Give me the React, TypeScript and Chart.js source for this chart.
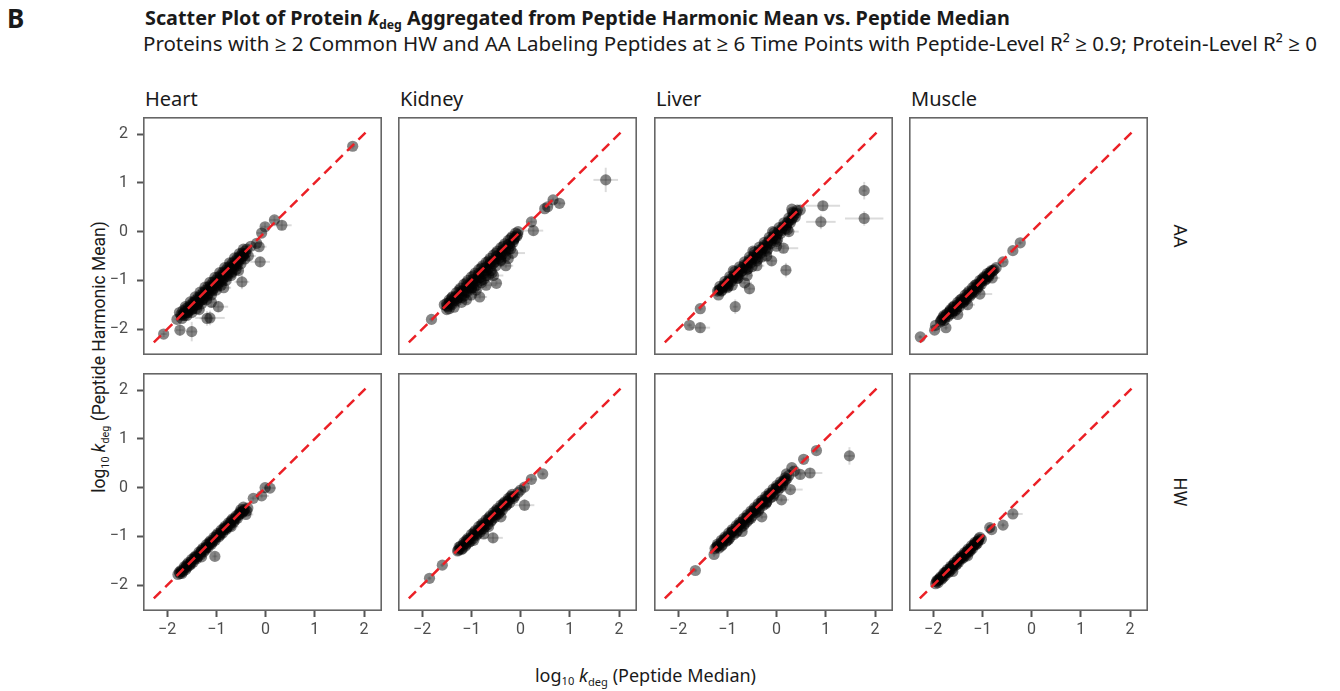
import React, { useEffect, useRef } from "react";
import { Chart, registerables } from "chart.js";

Chart.register(...registerables);

// ---------- data ----------
const TISSUES = ["Heart", "Kidney", "Liver", "Muscle"];
const LABELINGS = ["AA", "HW"];
const TICKS = [-2, -1, 0, 1, 2];
const X_RANGE = [-2.49, 2.365];
const Y_RANGE = [-2.53, 2.35];
const IDENTITY_X = [-2.27, 2.04];
const IDENTITY_Y = [-2.27, 2.04];

// [x, y, xErr, yErr]
const HEART_AA: number[][] = [
  [1.77, 1.75, 0.05, 0.05], [0.18, 0.24, 0.1, 0.08], [0.33, 0.13, 0.2, 0.1], [-0.01, 0.1, 0.08, 0.08],
  [-0.08, -0.03, 0.1, 0.05], [-0.13, -0.31, 0.15, 0.08], [-0.18, -0.24, 0.08, 0.06], [-0.11, -0.62, 0.2, 0.1],
  [-0.48, -1.03, 0.15, 0.15], [-0.69, -0.85, 0.2, 0.1], [-0.96, -1.54, 0.2, 0.12], [-1.13, -1.77, 0.3, 0.15],
  [-1.19, -1.78, 0.15, 0.15], [-1.5, -2.05, 0.1, 0.2], [-1.74, -2.02, 0.08, 0.12], [-2.07, -2.1, 0.06, 0.06],
  [-1.8, -1.8, 0.05, 0.05], [-0.3, -0.3, 0.08, 0.06], [-0.35, -0.5, 0.15, 0.05], [-0.55, -0.8, 0.1, 0.1],
  [-0.85, -1.15, 0.15, 0.05], [-1.1, -1.45, 0.1, 0.1], [-1.35, -1.6, 0.12, 0.05],
  [-1.72, -1.7], [-1.68, -1.62], [-1.65, -1.72, 0.06, 0.05], [-1.62, -1.58], [-1.6, -1.66], [-1.57, -1.55],
  [-1.55, -1.62, 0.08, 0.05], [-1.52, -1.5], [-1.5, -1.6], [-1.47, -1.45], [-1.45, -1.52, 0.1, 0.06], [-1.42, -1.4],
  [-1.4, -1.5], [-1.37, -1.35], [-1.35, -1.44, 0.1, 0.05], [-1.32, -1.3], [-1.3, -1.4], [-1.27, -1.25],
  [-1.25, -1.36, 0.12, 0.05], [-1.22, -1.2], [-1.2, -1.3], [-1.17, -1.14], [-1.15, -1.26], [-1.12, -1.1],
  [-1.1, -1.2, 0.1, 0.08], [-1.07, -1.04], [-1.05, -1.16], [-1.02, -1.0], [-1.0, -1.1], [-0.97, -0.94],
  [-0.95, -1.05, 0.15, 0.06], [-0.92, -0.9], [-0.9, -1.0], [-0.87, -0.84], [-0.85, -0.95], [-0.82, -0.8],
  [-0.8, -0.9, 0.12, 0.05], [-0.77, -0.74], [-0.75, -0.85], [-0.72, -0.7], [-0.7, -0.78], [-0.67, -0.64],
  [-0.65, -0.74, 0.1, 0.06], [-0.62, -0.6], [-0.6, -0.68], [-0.57, -0.54], [-0.55, -0.62], [-0.52, -0.5],
  [-0.5, -0.56, 0.1, 0.05], [-0.47, -0.44], [-0.45, -0.5], [-0.42, -0.4], [-0.4, -0.44],
  [-1.7, -1.78], [-1.6, -1.72], [-1.5, -1.66], [-1.4, -1.58], [-1.3, -1.48], [-1.2, -1.4], [-1.1, -1.3],
  [-1.0, -1.2], [-0.9, -1.1], [-0.8, -1.0], [-0.7, -0.9], [-0.6, -0.78], [-0.5, -0.66], [-0.42, -0.56],
  [-1.75, -1.66], [-1.63, -1.54], [-1.53, -1.44], [-1.43, -1.34], [-1.33, -1.24], [-1.23, -1.14],
  [-1.13, -1.04], [-1.03, -0.94], [-0.93, -0.84], [-0.83, -0.74], [-0.73, -0.64], [-0.63, -0.54],
  [-0.53, -0.45], [-0.45, -0.36], [-0.38, -0.36],
  [-1.66, -1.68], [-1.56, -1.6], [-1.46, -1.5], [-1.36, -1.4], [-1.26, -1.3], [-1.16, -1.2], [-1.06, -1.1],
  [-0.96, -1.0], [-0.86, -0.9], [-0.76, -0.8], [-0.66, -0.7], [-0.56, -0.6], [-0.46, -0.5], [-1.58, -1.66],
  [-1.48, -1.58], [-1.38, -1.5], [-1.28, -1.4], [-1.18, -1.32], [-1.08, -1.22], [-0.98, -1.12], [-0.88, -1.02],
  [-0.78, -0.92], [-0.68, -0.82], [-0.58, -0.7],
  [-1.7, -1.72], [-1.64, -1.64], [-1.58, -1.6], [-1.52, -1.54], [-1.46, -1.47], [-1.4, -1.42], [-1.34, -1.36],
  [-1.28, -1.31], [-1.22, -1.25], [-1.16, -1.18], [-1.1, -1.13], [-1.04, -1.07], [-0.98, -1.02], [-0.92, -0.95],
  [-0.86, -0.88], [-0.8, -0.83], [-0.74, -0.77], [-0.68, -0.72], [-0.62, -0.66], [-0.56, -0.58], [-0.5, -0.52],
  [-0.44, -0.46],
];

const KIDNEY_AA: number[][] = [
  [1.73, 1.06, 0.25, 0.25], [0.79, 0.58, 0.12, 0.05], [0.66, 0.65, 0.1, 0.05], [0.55, 0.51, 0.1, 0.06],
  [0.49, 0.47, 0.06, 0.06], [0.22, 0.2, 0.08, 0.08], [0.26, 0.02, 0.2, 0.1], [-1.81, -1.8, 0.05, 0.05],
  [-1.48, -1.54, 0.1, 0.06], [-1.2, -1.45, 0.15, 0.05], [-1.0, -1.3, 0.2, 0.08], [-0.83, -1.34, 0.15, 0.05],
  [-0.7, -1.1, 0.2, 0.06], [-0.49, -1.06, 0.1, 0.05], [-0.55, -0.9, 0.2, 0.05], [-0.3, -0.7, 0.15, 0.05],
  [-0.16, -0.44, 0.25, 0.05], [-0.25, -0.55, 0.1, 0.08], [-1.35, -1.55, 0.1, 0.05], [-1.45, -1.58, 0.06, 0.05],
  [-1.1, -1.4, 0.1, 0.05], [-0.9, -1.2, 0.1, 0.06],
  [-1.55, -1.5], [-1.5, -1.52], [-1.45, -1.4], [-1.42, -1.48, 0.08, 0.05], [-1.38, -1.33], [-1.35, -1.42],
  [-1.3, -1.25], [-1.27, -1.36, 0.1, 0.05], [-1.22, -1.16], [-1.2, -1.3], [-1.15, -1.08], [-1.12, -1.24],
  [-1.07, -1.0], [-1.05, -1.16, 0.12, 0.06], [-1.0, -0.93], [-0.97, -1.08], [-0.92, -0.85], [-0.9, -1.0],
  [-0.85, -0.78], [-0.82, -0.94, 0.15, 0.05], [-0.77, -0.7], [-0.75, -0.86], [-0.7, -0.63], [-0.67, -0.78],
  [-0.62, -0.55], [-0.6, -0.7, 0.1, 0.06], [-0.55, -0.48], [-0.52, -0.62], [-0.47, -0.4], [-0.45, -0.55],
  [-0.4, -0.33], [-0.37, -0.47, 0.12, 0.05], [-0.32, -0.25], [-0.3, -0.4], [-0.25, -0.18], [-0.22, -0.3],
  [-0.17, -0.1], [-0.15, -0.22, 0.1, 0.05], [-0.1, -0.03], [-0.12, -0.12], [-0.65, -0.9], [-0.8, -1.05],
  [-1.0, -1.15], [-0.4, -0.6],
  [-1.5, -1.6], [-1.4, -1.5], [-1.3, -1.42], [-1.2, -1.35], [-1.1, -1.25], [-1.0, -1.18], [-0.9, -1.1],
  [-0.8, -1.0], [-0.7, -0.9], [-0.6, -0.8], [-0.5, -0.7], [-0.4, -0.58], [-0.3, -0.5], [-0.2, -0.35],
  [-0.08, -0.1], [-1.25, -1.2], [-1.1, -1.05], [-0.95, -0.9], [-0.8, -0.75], [-0.65, -0.6], [-0.5, -0.44],
  [-0.35, -0.3], [-0.2, -0.14], [-0.05, 0.0], [-1.4, -1.36],
  [-1.45, -1.46], [-1.33, -1.34], [-1.21, -1.22], [-1.09, -1.1], [-0.97, -0.98], [-0.85, -0.86], [-0.73, -0.74],
  [-0.61, -0.62], [-0.49, -0.5], [-0.37, -0.38], [-0.25, -0.26], [-0.13, -0.15], [-1.3, -1.38], [-1.15, -1.22],
  [-1.0, -1.08], [-0.85, -0.95], [-0.7, -0.8], [-0.55, -0.65], [-0.4, -0.52], [-0.25, -0.36], [-1.15, -1.32],
  [-0.95, -1.15], [-0.75, -0.98], [-0.58, -0.85],
  [-1.5, -1.47], [-1.42, -1.42], [-1.34, -1.36], [-1.26, -1.3], [-1.18, -1.22], [-1.1, -1.14], [-1.02, -1.06],
  [-0.94, -0.98], [-0.86, -0.9], [-0.78, -0.82], [-0.7, -0.74], [-0.62, -0.66], [-0.54, -0.58], [-0.46, -0.5],
  [-0.38, -0.42], [-0.3, -0.34], [-0.22, -0.25], [-0.14, -0.17], [-0.06, -0.06],
];

const LIVER_AA: number[][] = [
  [1.78, 0.84, 0.05, 0.18], [1.78, 0.27, 0.39, 0.15], [0.94, 0.53, 0.35, 0.1], [0.9, 0.2, 0.3, 0.15],
  [0.31, 0.46, 0.06, 0.05], [0.48, 0.44, 0.06, 0.05], [0.14, -0.34, 0.3, 0.1], [0.19, -0.79, 0.1, 0.15],
  [-0.55, -1.17, 0.1, 0.12], [-0.84, -1.54, 0.05, 0.15], [-1.11, -1.2, 0.05, 0.05], [-1.55, -1.58, 0.05, 0.05],
  [-1.55, -1.97, 0.2, 0.1], [-1.77, -1.92, 0.05, 0.05], [-0.1, -0.6, 0.1, 0.1], [0.25, 0.0, 0.2, 0.1],
  [-0.9, -1.1, 0.1, 0.05], [-0.6, -0.9, 0.12, 0.06], [-0.4, -0.7, 0.15, 0.05], [-0.2, -0.5, 0.1, 0.08],
  [0.0, -0.3, 0.2, 0.05], [-0.65, -1.05, 0.15, 0.1],
  [-1.2, -1.22], [-1.15, -1.12], [-1.12, -1.22, 0.06, 0.05], [-1.05, -1.02], [-1.02, -1.12], [-0.95, -0.92],
  [-0.92, -1.02, 0.1, 0.05], [-0.85, -0.82], [-0.82, -0.93], [-0.75, -0.72], [-0.72, -0.83, 0.1, 0.06],
  [-0.65, -0.62], [-0.62, -0.74], [-0.55, -0.52], [-0.52, -0.64, 0.12, 0.05], [-0.45, -0.42], [-0.42, -0.54],
  [-0.35, -0.32], [-0.32, -0.44, 0.1, 0.06], [-0.25, -0.22], [-0.22, -0.34], [-0.15, -0.12],
  [-0.12, -0.24, 0.12, 0.05], [-0.05, -0.02], [-0.02, -0.14], [0.05, 0.08], [0.08, -0.04, 0.1, 0.05],
  [0.15, 0.18], [0.18, 0.06], [0.25, 0.28], [0.28, 0.18, 0.08, 0.05], [0.35, 0.38], [0.38, 0.3], [0.42, 0.44],
  [-0.78, -0.9], [-0.5, -0.72], [-0.3, -0.52], [-1.0, -1.08],
  [-1.1, -1.15], [-1.0, -1.05], [-0.9, -0.98], [-0.8, -0.88], [-0.7, -0.8], [-0.6, -0.68], [-0.5, -0.58],
  [-0.4, -0.48], [-0.3, -0.38], [-0.2, -0.28], [-0.1, -0.18], [0.0, -0.08], [0.1, 0.02], [0.2, 0.12],
  [0.3, 0.24], [-1.18, -1.3], [-0.98, -1.12], [-0.78, -0.95], [-0.58, -0.76], [-0.38, -0.56], [-0.18, -0.36],
  [0.02, -0.16], [0.22, 0.04], [-0.88, -0.8], [-0.48, -0.4], [-0.08, 0.0], [0.32, 0.4],
  [-1.15, -1.18], [-1.05, -1.08], [-0.95, -0.98], [-0.85, -0.88], [-0.75, -0.78], [-0.65, -0.68], [-0.55, -0.58],
  [-0.45, -0.48], [-0.35, -0.38], [-0.25, -0.28], [-0.15, -0.18], [-0.05, -0.08], [0.05, 0.02], [0.15, 0.12],
  [0.25, 0.22], [0.35, 0.33], [-1.0, -1.15], [-0.8, -0.96], [-0.6, -0.78], [-0.4, -0.6], [-0.2, -0.4], [0.0, -0.2],
  [-1.17, -1.2], [-1.08, -1.12], [-0.98, -1.02], [-0.88, -0.93], [-0.78, -0.83], [-0.68, -0.73], [-0.58, -0.63],
  [-0.48, -0.53], [-0.38, -0.43], [-0.28, -0.33], [-0.18, -0.23], [-0.08, -0.13], [0.02, -0.03], [0.12, 0.08],
  [0.22, 0.18], [0.32, 0.28], [0.4, 0.38],
];

const MUSCLE_AA: number[][] = [
  [-0.23, -0.23, 0.05, 0.05], [-0.38, -0.39, 0.06, 0.05], [-0.58, -0.62, 0.08, 0.05], [-2.26, -2.16, 0.04, 0.04],
  [-1.97, -2.02, 0.05, 0.05], [-1.74, -1.97, 0.05, 0.05], [-1.95, -1.92, 0.04, 0.04], [-1.3, -1.5, 0.15, 0.1],
  [-1.05, -1.28, 0.25, 0.05], [-0.8, -0.95, 0.15, 0.05], [-1.5, -1.7, 0.1, 0.06],
  [-1.85, -1.85], [-1.8, -1.76], [-1.77, -1.82], [-1.72, -1.68], [-1.7, -1.74, 0.06, 0.04], [-1.65, -1.6],
  [-1.62, -1.68], [-1.57, -1.52], [-1.55, -1.62, 0.1, 0.05], [-1.5, -1.45], [-1.47, -1.54], [-1.42, -1.38],
  [-1.4, -1.46, 0.12, 0.05], [-1.35, -1.3], [-1.32, -1.39], [-1.27, -1.22], [-1.25, -1.32, 0.1, 0.06],
  [-1.2, -1.15], [-1.17, -1.24], [-1.12, -1.08], [-1.1, -1.16, 0.15, 0.05], [-1.05, -1.0], [-1.02, -1.08],
  [-0.97, -0.93], [-0.95, -1.0, 0.12, 0.05], [-0.9, -0.86], [-0.87, -0.92], [-0.82, -0.8], [-0.78, -0.8],
  [-0.72, -0.74], [-1.6, -1.64], [-1.35, -1.4],
  [-1.78, -1.72], [-1.6, -1.55], [-1.45, -1.4], [-1.3, -1.26], [-1.15, -1.1], [-1.0, -0.97], [-0.85, -0.84],
  [-1.68, -1.66], [-1.52, -1.58], [-1.38, -1.44], [-1.22, -1.28], [-1.08, -1.13], [-0.92, -0.97], [-0.76, -0.78],
  [-1.82, -1.8], [-1.74, -1.72], [-1.66, -1.63], [-1.58, -1.56], [-1.5, -1.5], [-1.42, -1.42], [-1.34, -1.35],
  [-1.26, -1.28], [-1.18, -1.2], [-1.1, -1.1], [-1.02, -1.02], [-0.94, -0.93], [-0.86, -0.88], [-0.8, -0.82],
  [-1.84, -1.82], [-1.76, -1.76], [-1.68, -1.7], [-1.6, -1.62], [-1.52, -1.54], [-1.44, -1.46], [-1.36, -1.38],
  [-1.28, -1.3], [-1.2, -1.22], [-1.12, -1.14], [-1.04, -1.05], [-0.96, -0.97], [-0.88, -0.9],
];

const HEART_HW: number[][] = [
  [-1.03, -1.41, 0.05, 0.08], [-0.01, 0.0, 0.06, 0.05], [0.09, -0.01, 0.12, 0.05], [-0.25, -0.22, 0.06, 0.05],
  [-0.08, -0.17, 0.15, 0.05], [-0.45, -0.4, 0.1, 0.05], [-0.4, -0.55, 0.15, 0.05], [-0.7, -0.8, 0.15, 0.05],
  [-1.78, -1.78, 0.05, 0.05], [-0.5, -0.45, 0.1, 0.06], [-1.3, -1.42, 0.1, 0.05],
  [-1.72, -1.7], [-1.7, -1.76], [-1.65, -1.62], [-1.62, -1.68, 0.08, 0.04], [-1.57, -1.54], [-1.55, -1.6],
  [-1.5, -1.47], [-1.47, -1.53, 0.1, 0.05], [-1.42, -1.4], [-1.4, -1.46], [-1.35, -1.32], [-1.32, -1.38, 0.1, 0.05],
  [-1.27, -1.24], [-1.25, -1.31], [-1.2, -1.17], [-1.17, -1.23, 0.12, 0.05], [-1.12, -1.09], [-1.1, -1.16],
  [-1.05, -1.02], [-1.02, -1.08, 0.1, 0.05], [-0.97, -0.94], [-0.95, -1.01], [-0.9, -0.87], [-0.87, -0.93, 0.12, 0.05],
  [-0.82, -0.79], [-0.8, -0.86], [-0.75, -0.72], [-0.72, -0.78, 0.12, 0.05], [-0.67, -0.64], [-0.65, -0.71],
  [-0.6, -0.58], [-0.57, -0.63, 0.1, 0.05], [-0.52, -0.5], [-0.48, -0.52], [-0.42, -0.44], [-0.38, -0.48],
  [-1.75, -1.73], [-1.6, -1.58], [-1.45, -1.43], [-1.3, -1.28], [-1.15, -1.13], [-1.0, -0.98], [-0.85, -0.83],
  [-0.7, -0.68], [-0.55, -0.55], [-1.68, -1.72], [-1.52, -1.57], [-1.38, -1.42], [-1.22, -1.27], [-1.08, -1.12],
  [-0.92, -0.97], [-0.78, -0.82], [-0.62, -0.67], [-0.46, -0.49], [-0.36, -0.42],
  [-1.74, -1.76], [-1.64, -1.65], [-1.54, -1.56], [-1.44, -1.46], [-1.34, -1.36], [-1.24, -1.26], [-1.14, -1.16],
  [-1.04, -1.06], [-0.94, -0.96], [-0.84, -0.86], [-0.74, -0.76], [-0.64, -0.65], [-0.54, -0.56], [-0.44, -0.47],
  [-1.6, -1.64], [-1.2, -1.23], [-0.8, -0.83],
  [-1.71, -1.72], [-1.61, -1.62], [-1.51, -1.52], [-1.41, -1.42], [-1.31, -1.32], [-1.21, -1.22], [-1.11, -1.12],
  [-1.01, -1.02], [-0.91, -0.92], [-0.81, -0.82], [-0.71, -0.72], [-0.61, -0.62], [-0.51, -0.52],
];

const KIDNEY_HW: number[][] = [
  [0.45, 0.28, 0.05, 0.05], [0.22, 0.17, 0.1, 0.05], [0.08, 0.01, 0.08, 0.05], [0.08, -0.36, 0.2, 0.12],
  [-0.56, -1.03, 0.2, 0.1], [-1.59, -1.59, 0.04, 0.04], [-1.85, -1.86, 0.04, 0.04], [-0.05, -0.1, 0.08, 0.05],
  [0.0, -0.05, 0.06, 0.05], [-0.4, -0.6, 0.12, 0.05], [-0.75, -0.95, 0.1, 0.06],
  [-1.28, -1.3], [-1.22, -1.2], [-1.2, -1.27, 0.06, 0.05], [-1.15, -1.12], [-1.12, -1.2], [-1.07, -1.04],
  [-1.05, -1.12, 0.1, 0.05], [-1.0, -0.96], [-0.97, -1.05], [-0.92, -0.88], [-0.9, -0.98, 0.1, 0.06],
  [-0.85, -0.8], [-0.82, -0.91], [-0.77, -0.73], [-0.75, -0.84, 0.12, 0.05], [-0.7, -0.66], [-0.67, -0.76],
  [-0.62, -0.58], [-0.6, -0.69, 0.1, 0.05], [-0.55, -0.51], [-0.52, -0.61], [-0.47, -0.43], [-0.45, -0.54, 0.1, 0.05],
  [-0.4, -0.36], [-0.37, -0.46], [-0.32, -0.29], [-0.3, -0.38, 0.1, 0.05], [-0.25, -0.22], [-0.22, -0.31],
  [-0.17, -0.14], [-0.14, -0.22],
  [-1.25, -1.22], [-1.1, -1.08], [-0.95, -0.92], [-0.8, -0.77], [-0.65, -0.62], [-0.5, -0.47], [-0.35, -0.33],
  [-0.2, -0.18], [-1.18, -1.25], [-1.02, -1.1], [-0.88, -0.95], [-0.72, -0.8], [-0.58, -0.66], [-0.42, -0.5],
  [-0.28, -0.35], [-0.12, -0.18], [-0.95, -1.08], [-0.65, -0.8],
  [-1.26, -1.28], [-1.16, -1.17], [-1.06, -1.07], [-0.96, -0.98], [-0.86, -0.88], [-0.76, -0.78], [-0.66, -0.68],
  [-0.56, -0.58], [-0.46, -0.48], [-0.36, -0.38], [-0.26, -0.28], [-0.16, -0.19], [-1.1, -1.16], [-0.8, -0.86],
  [-0.5, -0.56],
  [-1.23, -1.25], [-1.13, -1.15], [-1.03, -1.05], [-0.93, -0.95], [-0.83, -0.85], [-0.73, -0.75], [-0.63, -0.65],
  [-0.53, -0.55], [-0.43, -0.45], [-0.33, -0.35], [-0.23, -0.25],
];

const LIVER_HW: number[][] = [
  [1.48, 0.65, 0.1, 0.18], [0.81, 0.76, 0.06, 0.05], [0.55, 0.58, 0.06, 0.05], [0.68, 0.3, 0.25, 0.1],
  [0.48, 0.27, 0.05, 0.1], [0.31, 0.41, 0.06, 0.05], [0.28, -0.04, 0.25, 0.05], [-1.65, -1.7, 0.04, 0.04],
  [-1.27, -1.37, 0.05, 0.05], [0.1, -0.25, 0.15, 0.05], [-0.3, -0.6, 0.1, 0.05], [-0.7, -0.9, 0.1, 0.05],
  [-1.25, -1.25], [-1.2, -1.16], [-1.17, -1.24, 0.06, 0.05], [-1.12, -1.08], [-1.1, -1.17], [-1.05, -1.01],
  [-1.02, -1.1, 0.08, 0.05], [-0.97, -0.93], [-0.95, -1.03], [-0.9, -0.86], [-0.87, -0.96, 0.1, 0.05],
  [-0.82, -0.78], [-0.8, -0.89], [-0.75, -0.71], [-0.72, -0.81, 0.1, 0.05], [-0.67, -0.63], [-0.65, -0.74],
  [-0.6, -0.56], [-0.57, -0.66, 0.1, 0.05], [-0.52, -0.48], [-0.5, -0.59], [-0.45, -0.41], [-0.42, -0.51, 0.1, 0.05],
  [-0.37, -0.33], [-0.35, -0.44], [-0.3, -0.26], [-0.27, -0.36, 0.12, 0.05], [-0.22, -0.18], [-0.2, -0.29],
  [-0.15, -0.11], [-0.12, -0.21, 0.1, 0.05], [-0.07, -0.03], [-0.05, -0.13], [0.0, 0.04], [0.03, -0.05, 0.1, 0.05],
  [0.08, 0.12], [0.12, 0.05], [0.17, 0.2], [0.21, 0.18],
  [-1.2, -1.2], [-1.05, -1.05], [-0.9, -0.9], [-0.75, -0.76], [-0.6, -0.62], [-0.45, -0.47], [-0.3, -0.31],
  [-0.15, -0.16], [0.0, -0.01], [0.15, 0.14], [-1.12, -1.2], [-0.97, -1.06], [-0.82, -0.92], [-0.67, -0.78],
  [-0.52, -0.63], [-0.37, -0.48], [-0.22, -0.33], [-0.07, -0.18], [0.08, 0.0], [0.25, 0.25], [0.2, 0.28],
  [0.36, 0.34],
  [-1.22, -1.22], [-1.12, -1.13], [-1.02, -1.03], [-0.92, -0.93], [-0.82, -0.83], [-0.72, -0.73], [-0.62, -0.63],
  [-0.52, -0.53], [-0.42, -0.43], [-0.32, -0.33], [-0.22, -0.23], [-0.12, -0.13], [-0.02, -0.03], [0.08, 0.06],
  [0.18, 0.15], [-1.0, -1.08], [-0.6, -0.7], [-0.2, -0.3],
  [-1.18, -1.19], [-1.08, -1.09], [-0.98, -0.99], [-0.88, -0.89], [-0.78, -0.79], [-0.68, -0.69], [-0.58, -0.59],
  [-0.48, -0.49], [-0.38, -0.39], [-0.28, -0.29], [-0.18, -0.19], [-0.08, -0.09], [0.02, 0.01], [0.12, 0.1],
];

const MUSCLE_HW: number[][] = [
  [-0.38, -0.54, 0.2, 0.05], [-0.58, -0.77, 0.05, 0.05], [-0.81, -0.86, 0.05, 0.05], [-0.85, -0.82, 0.05, 0.05],
  [-1.6, -1.72, 0.1, 0.05], [-1.3, -1.4, 0.1, 0.04],
  [-1.95, -1.97], [-1.92, -1.9], [-1.9, -1.95, 0.05, 0.04], [-1.85, -1.83], [-1.83, -1.88], [-1.78, -1.75],
  [-1.76, -1.81, 0.06, 0.04], [-1.71, -1.68], [-1.69, -1.74], [-1.64, -1.61], [-1.62, -1.67, 0.08, 0.04],
  [-1.57, -1.54], [-1.55, -1.6], [-1.5, -1.47], [-1.48, -1.53, 0.08, 0.04], [-1.43, -1.4], [-1.41, -1.46],
  [-1.36, -1.33], [-1.34, -1.39, 0.08, 0.04], [-1.29, -1.26], [-1.27, -1.32], [-1.22, -1.19],
  [-1.2, -1.25, 0.08, 0.04], [-1.15, -1.12], [-1.13, -1.17], [-1.07, -1.05], [-1.02, -1.06],
  [-1.88, -1.88], [-1.75, -1.74], [-1.6, -1.6], [-1.45, -1.44], [-1.3, -1.3], [-1.15, -1.15], [-1.05, -1.02],
  [-1.8, -1.85], [-1.66, -1.71], [-1.52, -1.57], [-1.38, -1.43], [-1.24, -1.29], [-1.1, -1.14],
  [-1.93, -1.93], [-1.86, -1.86], [-1.79, -1.79], [-1.72, -1.72], [-1.65, -1.65], [-1.58, -1.58], [-1.51, -1.51],
  [-1.44, -1.45], [-1.37, -1.38], [-1.3, -1.31], [-1.23, -1.24], [-1.16, -1.17], [-1.1, -1.1],
  [-1.9, -1.91], [-1.82, -1.83], [-1.74, -1.75], [-1.66, -1.67], [-1.58, -1.59], [-1.5, -1.51], [-1.42, -1.43],
  [-1.34, -1.35], [-1.26, -1.27], [-1.18, -1.19], [-1.08, -1.09],
];

const PANEL_DATA: number[][][][] = [
  [HEART_AA, KIDNEY_AA, LIVER_AA, MUSCLE_AA],
  [HEART_HW, KIDNEY_HW, LIVER_HW, MUSCLE_HW],
];

// ---------- layout ----------
const COL_LEFT = [143, 398, 654, 909];
const ROW_TOP = [117, 373];
const PANEL_W = 239;
const PANEL_H = 238;
const AXIS_W = 50;
const AXIS_H = 36;

const RED = "rgb(235,32,38)";
const TEXT = "#1a1a1a";
const TICK_TEXT = "#4d4d4d";
const MAIN_FONT = "'Noto Sans', 'Open Sans', sans-serif";

const fmt = (v: number) => (v < 0 ? "\u2212" + Math.abs(v) : String(v));

const errorBarPlugin = {
  id: "errorBars",
  beforeDatasetsDraw(chart: any) {
    const { ctx, chartArea: a, scales } = chart;
    const xs = scales.x, ys = scales.y;
    const pts = chart.data.datasets[1].data as any[];
    ctx.save();
    ctx.beginPath();
    ctx.rect(a.left, a.top, a.right - a.left, a.bottom - a.top);
    ctx.clip();
    ctx.strokeStyle = "rgba(0,0,0,0.14)";
    ctx.lineWidth = 2;
    for (const p of pts) {
      const px = xs.getPixelForValue(p.x);
      const py = ys.getPixelForValue(p.y);
      if (p.xe) {
        ctx.beginPath();
        ctx.moveTo(xs.getPixelForValue(p.x - p.xe), py);
        ctx.lineTo(xs.getPixelForValue(p.x + p.xe), py);
        ctx.stroke();
      }
      if (p.ye) {
        ctx.beginPath();
        ctx.moveTo(px, ys.getPixelForValue(p.y - p.ye));
        ctx.lineTo(px, ys.getPixelForValue(p.y + p.ye));
        ctx.stroke();
      }
    }
    ctx.restore();
  },
};

const borderPlugin = {
  id: "panelBorder",
  afterDraw(chart: any) {
    const { ctx, chartArea: a } = chart;
    ctx.save();
    ctx.strokeStyle = "#666666";
    ctx.lineWidth = 1.6;
    ctx.strokeRect(a.left + 0.8, a.top + 0.8, a.right - a.left - 1.6, a.bottom - a.top - 1.6);
    ctx.restore();
  },
};

function Panel({ r, c }: { r: number; c: number }) {
  const ref = useRef<HTMLCanvasElement>(null);
  const showY = c === 0;
  const showX = r === 1;
  const w = PANEL_W + (showY ? AXIS_W : 0);
  const h = PANEL_H + (showX ? AXIS_H : 0);
  const left = COL_LEFT[c] - (showY ? AXIS_W : 0);
  const top = ROW_TOP[r];

  useEffect(() => {
    const pts = PANEL_DATA[r][c].map((t) => ({ x: t[0], y: t[1], xe: t[2] || 0, ye: t[3] || 0 }));
    const line = IDENTITY_X.map((v, i) => ({ x: v, y: IDENTITY_Y[i] }));
    const axis = (show: boolean, isX: boolean) => ({
      type: "linear" as const,
      display: show,
      min: isX ? X_RANGE[0] : Y_RANGE[0],
      max: isX ? X_RANGE[1] : Y_RANGE[1],
      afterBuildTicks: (s: any) => {
        s.ticks = TICKS.map((v) => ({ value: v }));
      },
      afterFit: (s: any) => {
        s.paddingTop = 0;
        s.paddingBottom = 0;
        s.paddingLeft = 0;
        s.paddingRight = 0;
        if (!show) return;
        if (isX) s.height = AXIS_H;
        else s.width = AXIS_W;
      },
      grid: {
        display: true,
        drawOnChartArea: false,
        drawTicks: true,
        tickLength: 6,
        tickColor: "#555555",
        tickWidth: 2,
      },
      border: { display: false },
      ticks: {
        color: TICK_TEXT,
        font: { family: "Roboto", size: 16 },
        padding: isX ? 3 : 9,
        autoSkip: false,
        maxRotation: 0,
        callback: (v: any) => fmt(Number(v)),
      },
    });
    const chart = new Chart(ref.current as HTMLCanvasElement, {
      type: "scatter",
      data: {
        datasets: [
          {
            type: "line",
            data: line,
            borderColor: RED,
            borderWidth: 2.5,
            borderDash: [10, 6],
            pointRadius: 0,
            showLine: true,
            fill: false,
            order: 0,
          } as any,
          {
            type: "scatter",
            data: pts,
            backgroundColor: "rgba(0,0,0,0.48)",
            borderWidth: 0,
            pointRadius: 5.6,
            order: 1,
          } as any,
        ],
      },
      options: {
        animation: false,
        responsive: false,
        maintainAspectRatio: false,
        events: [],
        layout: { padding: 0, autoPadding: false },
        plugins: { legend: { display: false }, tooltip: { enabled: false } },
        scales: { x: axis(showX, true) as any, y: axis(showY, false) as any },
      },
      plugins: [errorBarPlugin, borderPlugin],
    });
    return () => chart.destroy();
  }, [r, c]);

  return (
    <canvas
      ref={ref}
      width={w}
      height={h}
      style={{ position: "absolute", left, top, width: w, height: h }}
    />
  );
}

const Kdeg = () => (
  <>
    <i>k</i>
    <sub style={{ fontSize: "0.62em", verticalAlign: "-0.35em", lineHeight: 0 }}>deg</sub>
  </>
);

export default function App() {
  return (
    <div
      style={{
        position: "absolute",
        left: 0,
        top: 0,
        width: 1340,
        height: 691,
        background: "#ffffff",
        overflow: "hidden",
        color: TEXT,
        fontFamily: MAIN_FONT,
      }}
    >
      <div style={{ position: "absolute", left: 7, top: 5, fontSize: 26, fontWeight: 700, lineHeight: 1 }}>B</div>
      <div style={{ position: "absolute", left: 145, top: 8, fontSize: 19.8, fontWeight: 700, lineHeight: 1, whiteSpace: "nowrap" }}>
        Scatter Plot of Protein <Kdeg /> Aggregated from Peptide Harmonic Mean vs. Peptide Median
      </div>
      <div style={{ position: "absolute", left: 143, top: 33, fontSize: 20.5, lineHeight: 1, whiteSpace: "nowrap" }}>
        Proteins with ≥ 2 Common HW and AA Labeling Peptides at ≥ 6 Time Points with Peptide-Level R² ≥ 0.9; Protein-Level R² ≥ 0
      </div>
      {TISSUES.map((t, c) => (
        <div key={t} style={{ position: "absolute", left: COL_LEFT[c] + 2, top: 89, fontSize: 20, lineHeight: 1, whiteSpace: "nowrap" }}>
          {t}
        </div>
      ))}
      {LABELINGS.map((l, r) => (
        <div
          key={l}
          style={{
            position: "absolute",
            left: 1180,
            top: ROW_TOP[r] + PANEL_H / 2,
            transform: "translate(-50%, -50%) rotate(90deg)",
            fontSize: 18,
            fontFamily: "Roboto",
            lineHeight: 1,
            whiteSpace: "nowrap",
          }}
        >
          {l}
        </div>
      ))}
      <div
        style={{
          position: "absolute",
          left: 100,
          top: 357,
          transform: "translate(-50%, -50%) rotate(-90deg)",
          fontSize: 17.5,
          fontFamily: "Roboto",
          lineHeight: 1,
          whiteSpace: "nowrap",
        }}
      >
        log<sub style={{ fontSize: "0.62em", verticalAlign: "-0.3em", lineHeight: 0 }}>10</sub> <Kdeg /> (Peptide Harmonic Mean)
      </div>
      <div
        style={{
          position: "absolute",
          left: (COL_LEFT[0] + COL_LEFT[3] + PANEL_W) / 2,
          top: 675,
          transform: "translate(-50%, -50%)",
          fontSize: 18,
          lineHeight: 1,
          whiteSpace: "nowrap",
        }}
      >
        log<sub style={{ fontSize: "0.62em", verticalAlign: "-0.3em", lineHeight: 0 }}>10</sub> <Kdeg /> (Peptide Median)
      </div>
      {PANEL_DATA.map((row, r) => row.map((_, c) => <Panel key={`${r}-${c}`} r={r} c={c} />))}
    </div>
  );
}
